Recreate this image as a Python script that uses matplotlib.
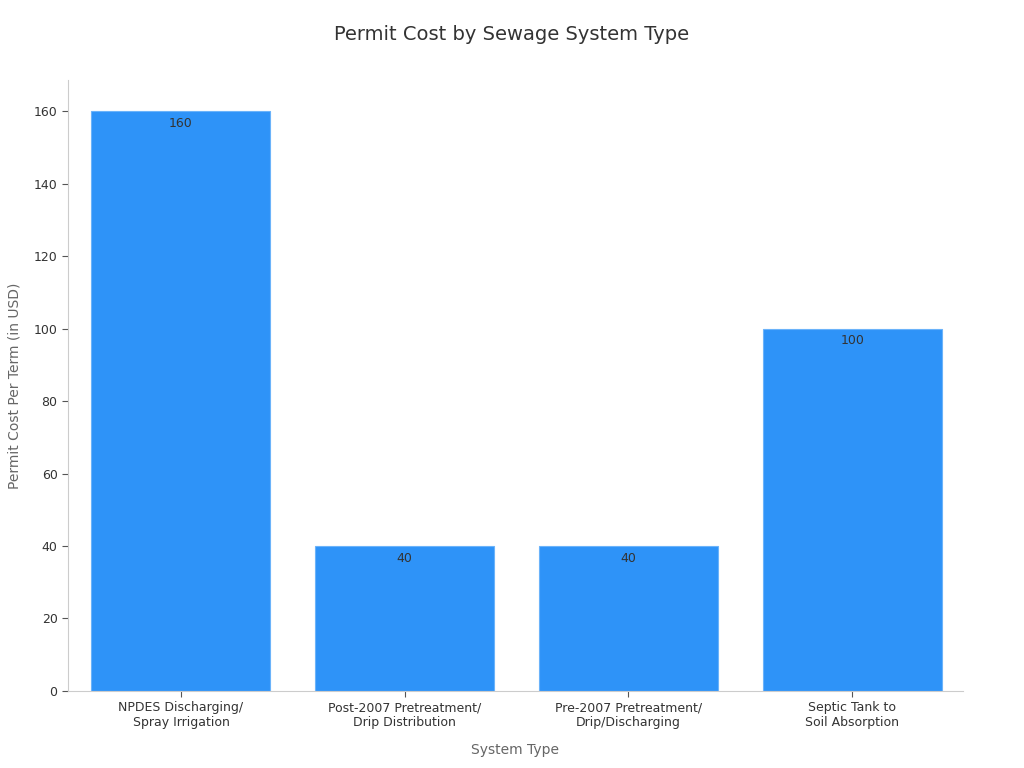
import matplotlib.pyplot as plt

# Data
categories = ['NPDES Discharging/\nSpray Irrigation',
              'Post-2007 Pretreatment/\nDrip Distribution',
              'Pre-2007 Pretreatment/\nDrip/Discharging',
              'Septic Tank to\nSoil Absorption']
costs = [160, 40, 40, 100]

fig = plt.figure(figsize=(10.24, 7.68), dpi=100)
ax = fig.add_axes([0.0664, 0.1003, 0.874, 0.7955])

x = range(len(categories))
bars = ax.bar(x, costs, width=0.8, color='#2E93F8', edgecolor='#6BB3FA', linewidth=0.8)

# value labels just inside the top of each bar
for b, v in zip(bars, costs):
    ax.annotate(str(v), (b.get_x() + b.get_width() / 2, v),
                xytext=(0, -4), textcoords='offset points',
                ha='center', va='top', fontsize=9, color='#333333')

ax.set_xlim(-0.505, 3.495)
ax.set_ylim(0, 168.6)
ax.set_yticks(range(0, 161, 20))
ax.set_xticks(list(x))
ax.set_xticklabels(categories, fontsize=9, color='#333333')
ax.tick_params(axis='y', labelsize=9, labelcolor='#333333', color='#555555', length=4)
ax.tick_params(axis='x', color='#555555', length=4)

for side in ['top', 'right']:
    ax.spines[side].set_visible(False)
for side in ['left', 'bottom']:
    ax.spines[side].set_color('#cccccc')

ax.set_xlabel('System Type', fontsize=10, color='#666666', labelpad=10)
ax.set_ylabel('Permit Cost Per Term (in USD)', fontsize=10, color='#666666', labelpad=9)
fig.suptitle('Permit Cost by Sewage System Type', fontsize=14, color='#333333', y=0.968)

fig.savefig('out.png', dpi=100)
